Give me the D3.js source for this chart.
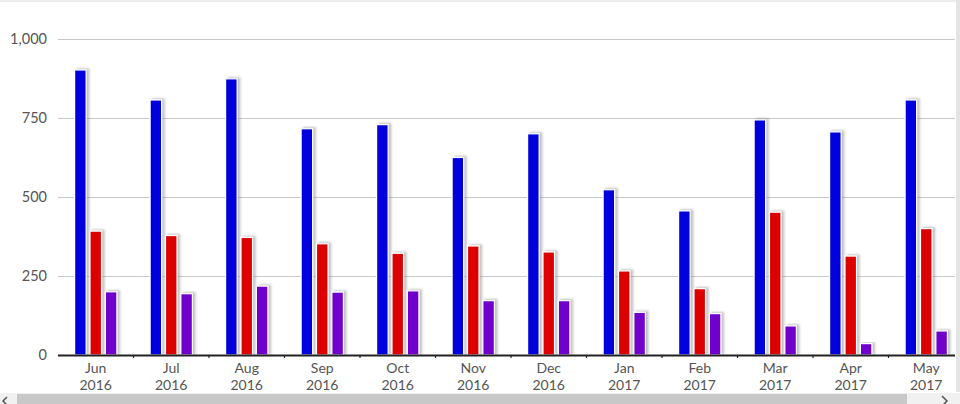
<!DOCTYPE html>
<html><head><meta charset="utf-8">
<script src="https://cdn.jsdelivr.net/npm/d3@7"></script>
<style>
html,body{margin:0;padding:0;background:#fff;overflow:hidden;}
svg{display:block;font-family:Lato,"Open Sans",sans-serif;}
</style></head>
<body>
<svg id="chart" width="960" height="404"></svg>
<script>
const months = ["Jun 2016","Jul 2016","Aug 2016","Sep 2016","Oct 2016","Nov 2016","Dec 2016","Jan 2017","Feb 2017","Mar 2017","Apr 2017","May 2017"];
const seriesNames = ["A","B","C"];
const seriesA = [902, 807, 874, 716, 729, 625, 700, 523, 456, 744, 706, 807];
const seriesB = [392, 378, 372, 352, 322, 345, 326, 266, 210, 452, 313, 400];
const seriesC = [200, 194, 218, 199, 203, 172, 172, 135, 131, 92, 36, 76];
const yTicks = [0, 250, 500, 750, 1000];
const colors = ["#0000dc", "#dc0000", "#7000cc"];

const svg = d3.select("#chart");
const W = 960, H = 404;
const pLeft = 58, pRight = 955, pTop = 39, pBottom = 355;

// frame lines
svg.append("rect").attr("x",0).attr("y",0).attr("width",W).attr("height",2).attr("fill","#ececec");
svg.append("rect").attr("x",956).attr("y",0).attr("width",4).attr("height",392).attr("fill","#e4e4e4");

const defs = svg.append("defs");
const f = defs.append("filter").attr("id","sh").attr("x","-50%").attr("y","-10%").attr("width","200%").attr("height","120%");
f.append("feDropShadow").attr("dx",2.5).attr("dy",-1).attr("stdDeviation",0.8)
  .attr("flood-color","#777").attr("flood-opacity",0.45);

const y = d3.scaleLinear().domain([0,1000]).range([pBottom, pTop]);
const x0 = d3.scaleBand().domain(months).range([pLeft, 964]).padding(0);
const x1 = d3.scaleBand().domain(seriesNames)
  .range([x0.bandwidth()*0.22, x0.bandwidth()*0.78]).paddingInner(0.25).paddingOuter(0);

// grid
svg.append("g").selectAll("line").data(yTicks.filter(d=>d>0)).join("line")
  .attr("x1",pLeft).attr("x2",pRight).attr("y1",d=>y(d)+0.5).attr("y2",d=>y(d)+0.5)
  .attr("stroke","#c8c8c8").attr("stroke-width",1);

// y labels
const yAxis = d3.axisLeft(y).tickValues(yTicks).tickSize(0).tickPadding(0).tickFormat(d3.format(","));
const ga = svg.append("g").attr("transform",`translate(${47},0)`).call(yAxis);
ga.select(".domain").remove();
ga.selectAll("text").attr("font-size",14.5).attr("fill","#555").attr("font-family","Lato,sans-serif");

// bars
const rows = months.map((m,i)=>({m, vals:[seriesA[i],seriesB[i],seriesC[i]]}));
const g = svg.append("g");
const grp = g.selectAll("g").data(rows).join("g").attr("transform",d=>`translate(${x0(d.m)},0)`);
grp.selectAll("rect").data(d=>d.vals.map((v,k)=>({k:seriesNames[k],v,c:colors[k]}))).join("rect")
  .attr("x",d=>x1(d.k)).attr("width",x1.bandwidth())
  .attr("y",d=>y(d.v)).attr("height",d=>pBottom-y(d.v))
  .attr("fill",d=>d.c).attr("stroke","#fff").attr("stroke-width",1.2)
  .attr("filter","url(#sh)");

// baseline
svg.append("line").attr("x1",pLeft).attr("x2",pRight).attr("y1",pBottom+0.5).attr("y2",pBottom+0.5)
  .attr("stroke","#222").attr("stroke-width",2.2);
// small ticks at band boundaries
svg.append("g").selectAll("line").data(months.slice(1)).join("line")
  .attr("x1",d=>x0(d)).attr("x2",d=>x0(d)).attr("y1",pBottom).attr("y2",pBottom+3)
  .attr("stroke","#222").attr("stroke-width",1.2);

// x labels (two lines)
const cx = d => x0(d)+x0.bandwidth()/2;
const xg = svg.append("g").attr("font-size",14).attr("fill","#555").attr("text-anchor","middle");
xg.selectAll("text.m").data(months).join("text").attr("class","m")
  .attr("x",cx).attr("y",373).text(d=>d.split(" ")[0]);
xg.selectAll("text.yr").data(months).join("text").attr("class","yr")
  .attr("x",cx).attr("y",390).text(d=>d.split(" ")[1]);

// scrollbar
svg.append("rect").attr("x",0).attr("y",393).attr("width",W).attr("height",11).attr("fill","#f1f1f1");
svg.append("rect").attr("x",17).attr("y",394).attr("width",890).attr("height",10).attr("fill","#c8c8c8");
svg.append("path").attr("d","M7,397 L3,401 L7,405").attr("fill","none").attr("stroke","#555").attr("stroke-width",1.5);
svg.append("path").attr("d","M942,396 L947,401 L942,406").attr("fill","none").attr("stroke","#555").attr("stroke-width",1.5);
</script>
</body></html>
